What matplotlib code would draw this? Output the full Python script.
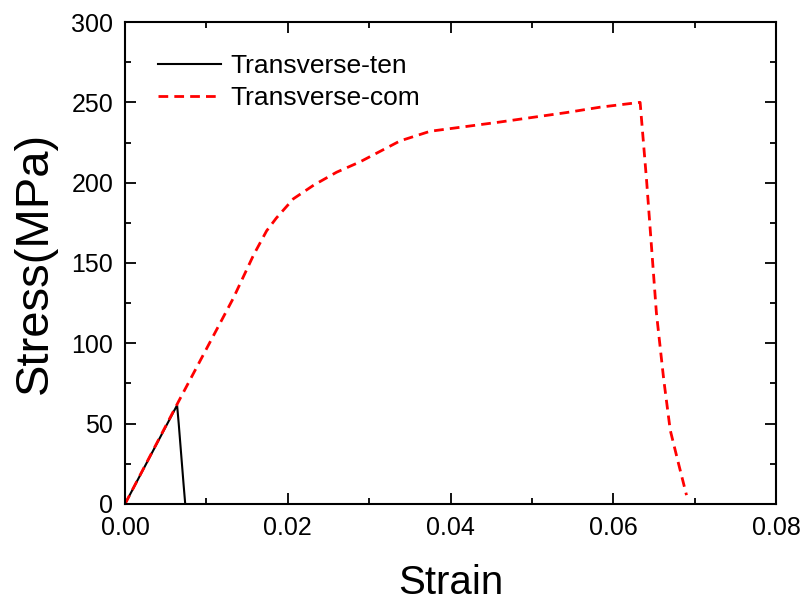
import matplotlib
matplotlib.use("Agg")
import matplotlib.pyplot as plt
from matplotlib.ticker import MultipleLocator, FormatStrFormatter

plt.rcParams["font.family"] = ["Liberation Sans", "DejaVu Sans"]

# transverse tension
ten_strain = [0.0, 0.0064, 0.0066, 0.0069, 0.0072, 0.0074]
ten_stress = [0.0, 61.5, 50.0, 31.0, 12.0, 0.0]

# transverse compression
com_strain = [0.0, 0.0066, 0.0133, 0.0158, 0.0174, 0.0186, 0.0207, 0.0232,
              0.0260, 0.0289, 0.0338, 0.0375, 0.0460, 0.0542, 0.0584, 0.0633,
              0.0641, 0.0647, 0.0653, 0.0662, 0.0670, 0.0680, 0.0690]
com_stress = [0.0, 64.0, 128.0, 155.0, 170.0, 178.0, 190.0, 198.5,
              206.5, 213.0, 226.0, 232.0, 237.7, 243.6, 247.0, 250.0,
              201.0, 160.0, 119.0, 77.5, 46.0, 25.5, 5.5]

fig = plt.figure(figsize=(8.06, 6.03), dpi=100)
ax = fig.add_axes([0.1551, 0.1642, 0.8077, 0.7993])

ax.plot(ten_strain, ten_stress, "-", color="black", lw=1.5,
        label="Transverse-ten")
ax.plot(com_strain, com_stress, color="red", lw=2.0, dashes=(3.5, 2.2),
        label="Transverse-com")

ax.set_xlim(0, 0.08)
ax.set_ylim(0, 300)
ax.xaxis.set_major_locator(MultipleLocator(0.02))
ax.xaxis.set_minor_locator(MultipleLocator(0.01))
ax.yaxis.set_major_locator(MultipleLocator(50))
ax.yaxis.set_minor_locator(MultipleLocator(25))
ax.xaxis.set_major_formatter(FormatStrFormatter("%.2f"))
ax.tick_params(which="both", direction="in", top=True, right=True,
               labelsize=18, width=1.3)
ax.tick_params(which="major", length=8)
ax.tick_params(which="minor", length=4)
ax.tick_params(axis="x", which="major", pad=9)
ax.tick_params(axis="y", which="major", pad=8.5)
for s in ax.spines.values():
    s.set_linewidth(1.5)

ax.set_xlabel("Strain", fontsize=29, labelpad=17)
ax.set_ylabel("Stress(MPa)", fontsize=34, labelpad=10)

ax.legend(frameon=False, loc="upper left", bbox_to_anchor=(0.014, 0.983),
          fontsize=19, handlelength=2.4, handletextpad=0.33,
          labelspacing=0.31, borderaxespad=0.5)

fig.savefig("out.png", dpi=100)
